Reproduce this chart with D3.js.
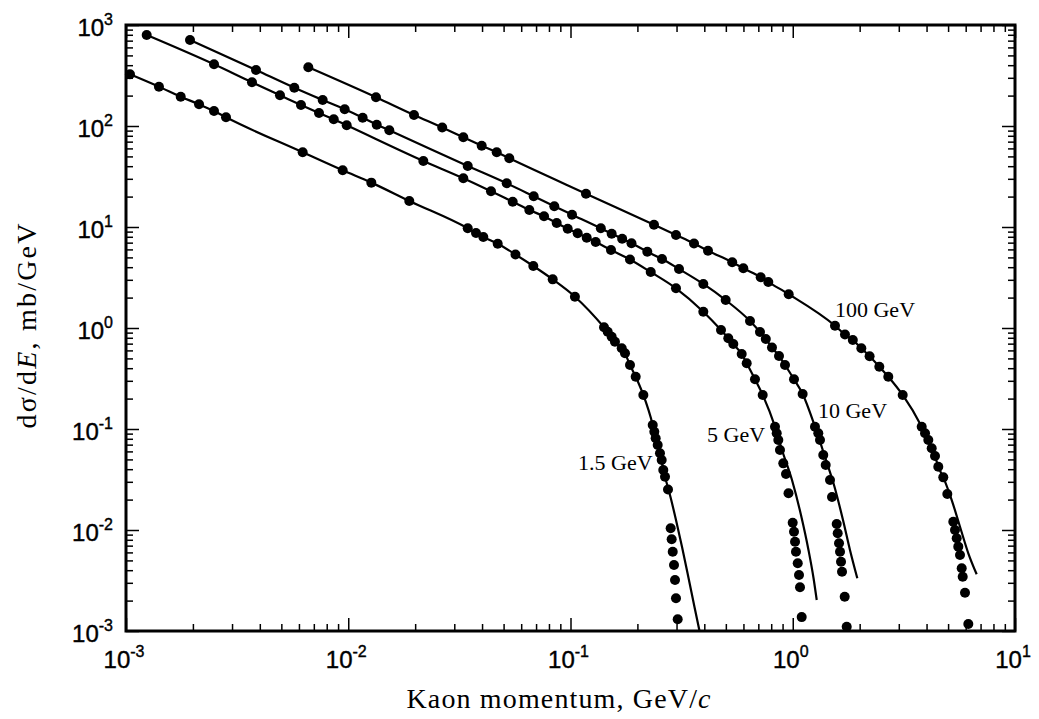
<!doctype html>
<html>
<head>
<meta charset="utf-8">
<title>Kaon production spectra</title>
<script src="https://d3js.org/d3.v7.min.js"></script>
<style>
    body { margin: 0; background: #fff; }
    .tick line { stroke: #000; stroke-width: 1.5px; }
    .tick-label { font-family: "Liberation Sans", Arial, sans-serif; font-size: 24px; fill: #000; stroke: #000; stroke-width: 0.4px; }
    .title { font-family: "Liberation Serif", "Times New Roman", serif; font-size: 28px; fill: #000; }
    .series-label { font-family: "Liberation Serif", "Times New Roman", serif; font-size: 22px; fill: #000; }
    .curve { fill: none; stroke: #000; stroke-width: 2.2px; }
    .dot { fill: #000; }
</style>
</head>
<body>
<svg id="chart" width="1039" height="719"></svg>
<script>

// beam energies, one series each
var energies = ["1.5 GeV", "5 GeV", "10 GeV", "100 GeV"];

// measured points: [kaon momentum GeV/c, dsigma/dE mb/GeV]
var pts15 = [
    [0.001042, 325], [0.001407, 245], [0.001763, 195], [0.002131, 164], [0.002489, 140.8], [0.002818, 122],
    [0.006237, 54.9], [0.00944, 36.4], [0.0127, 27.5], [0.01882, 18.1],
    [0.03448, 9.71], [0.03757, 8.72], [0.04052, 7.96], [0.04704, 6.83], [0.05655, 5.34], [0.06802, 4.11],
    [0.08316, 3.03], [0.1047, 2.04],
    [0.1415, 1.016], [0.147, 0.919], [0.1532, 0.82], [0.1585, 0.732], [0.17, 0.63], [0.1759, 0.562],
    [0.1852, 0.43], [0.1965, 0.3295], [0.2127, 0.2171],
    [0.2344, 0.1095], [0.2383, 0.094], [0.2417, 0.0809], [0.2468, 0.0694], [0.2527, 0.0575], [0.2572, 0.0493],
    [0.2615, 0.0393], [0.2662, 0.0337], [0.2746, 0.0252],
    [0.2823, 0.01039], [0.2852, 0.00809], [0.2884, 0.0061], [0.2922, 0.0045], [0.2953, 0.0032],
    [0.2983, 0.00211], [0.3036, 0.001306]
];
var pts5 = [
    [0.001239, 796], [0.002489, 408], [0.003688, 270.8], [0.00493, 201.4], [0.006128, 161.4], [0.007385, 134.5],
    [0.008603, 116.5], [0.00984, 101.6],
    [0.02177, 45.03], [0.03294, 30.35], [0.04388, 22.57], [0.05494, 17.8], [0.06526, 14.73], [0.07601, 12.76],
    [0.08668, 10.95], [0.09714, 9.62], [0.1077, 8.66], [0.1183, 7.84], [0.1298, 7.1], [0.1521, 5.92],
    [0.1852, 4.77], [0.2296, 3.58], [0.2983, 2.47], [0.3959, 1.45],
    [0.4755, 0.955], [0.5129, 0.791], [0.5401, 0.694], [0.5893, 0.553], [0.6206, 0.447], [0.6762, 0.3105],
    [0.7325, 0.2171],
    [0.832, 0.1054], [0.8469, 0.0907], [0.861, 0.0778], [0.876, 0.062], [0.9068, 0.0457], [0.9324, 0.0358],
    [0.957, 0.02309],
    [0.9995, 0.01181], [1.013, 0.00962], [1.024, 0.00766], [1.034, 0.0061], [1.053, 0.00468], [1.067, 0.00358],
    [1.078, 0.00271], [1.097, 0.001373]
];
var pts10 = [
    [0.001941, 710], [0.003845, 358.5], [0.005719, 239.4], [0.007674, 180.9], [0.009638, 146.3], [0.01161, 120.9],
    [0.01343, 103], [0.0153, 90.7],
    [0.03448, 40.18], [0.05164, 27.09], [0.0683, 20.14], [0.08455, 16.03], [0.1016, 13.24], [0.1369, 9.71],
    [0.1532, 8.59], [0.1708, 7.64], [0.1881, 6.9], [0.2216, 5.69], [0.2581, 4.82], [0.3078, 3.84],
    [0.3959, 2.73], [0.4992, 1.89], [0.6422, 1.173],
    [0.7121, 0.913], [0.7563, 0.778], [0.8065, 0.641], [0.8672, 0.528], [0.9229, 0.43], [1.013, 0.3105],
    [1.108, 0.2221],
    [1.259, 0.1054], [1.303, 0.0907], [1.326, 0.0778], [1.372, 0.0553], [1.407, 0.044], [1.471, 0.03126],
    [1.502, 0.02122],
    [1.577, 0.01147], [1.593, 0.00928], [1.615, 0.00738], [1.632, 0.0061], [1.649, 0.00485], [1.666, 0.00386],
    [1.713, 0.002186], [1.749, 0.001103]
];
var pts100 = [
    [0.006612, 381.3], [0.01333, 192.4], [0.01976, 128.5], [0.02647, 96.6], [0.03294, 77.3], [0.03985, 63.8],
    [0.04656, 54.9], [0.05303, 47.9],
    [0.1174, 21.36], [0.2375, 10.51], [0.2983, 8.33], [0.3595, 6.87], [0.4156, 5.81], [0.5341, 4.48],
    [0.5992, 3.9], [0.7174, 3.18], [0.7762, 2.85], [0.9589, 2.16],
    [1.549, 1.054], [1.718, 0.862], [1.863, 0.761], [2.035, 0.63], [2.217, 0.525], [2.452, 0.414],
    [2.691, 0.3295], [3.124, 0.2171],
    [3.804, 0.1054], [3.937, 0.0907], [4.073, 0.0778], [4.219, 0.0644], [4.365, 0.054], [4.517, 0.0423],
    [4.757, 0.0332],
    [4.96, 0.02272], [5.277, 0.01208], [5.37, 0.01], [5.466, 0.00827], [5.557, 0.00684], [5.656, 0.00566],
    [5.757, 0.00418], [5.817, 0.00345], [5.957, 0.002394], [6.165, 0.001173]
];

// calculated curves follow the points down to fitCut, then run on alone
var fitCut = [0.267, 0.833, 1.26, 4.76];
var tail15 = [[0.2818, 0.02122], [0.2983, 0.01256], [0.3176, 0.00679], [0.3397, 0.00335], [0.3613, 0.001728], [0.3806, 0.001]];
var tail5 = [[0.8946, 0.062], [0.9922, 0.03126], [1.089, 0.01408], [1.177, 0.00634], [1.24, 0.00335], [1.282, 0.002027]];
var tail10 = [[1.411, 0.0493], [1.533, 0.02789], [1.683, 0.01256], [1.809, 0.00634], [1.952, 0.003324]];
var tail100 = [[5.191, 0.0198], [5.656, 0.01078], [6.165, 0.00588], [6.724, 0.003642]];

// where each energy label sits (data coords of text start)
var labelAt = [[0.1081, 0.0393], [0.4114, 0.0743], [1.299, 0.1285], [1.549, 1.285]];

// axis decades (exponents of 10)
var xDecades = [-3, -2, -1, 0, 1];
var yDecades = [-3, -2, -1, 0, 1, 2, 3];

var points = [pts15, pts5, pts10, pts100];
var tails = [tail15, tail5, tail10, tail100];

var svg = d3.select("#chart"),
    margin = {left: 126, right: 24, top: 25, bottom: 88},
    width = 1039 - margin.left - margin.right,
    height = 719 - margin.top - margin.bottom;

var g = svg.append("g")
    .attr("transform", "translate(" + margin.left + "," + margin.top + ")");

var x = d3.scaleLog().domain([1e-3, 10]).range([0, width]);
var y = d3.scaleLog().domain([1e-3, 1e3]).range([height, 0]);

function majors(decs) {
    return decs.map(function(d) { return Math.pow(10, d); });
}
function minors(decs) {
    var out = [];
    for (var i = 0; i < decs.length - 1; i++) {
        for (var m = 2; m <= 9; m++) out.push(m * Math.pow(10, decs[i]));
    }
    return out;
}

// ticks on all four sides, pointing inward
function drawAxis(axisFn, scale, decs, transform) {
    [[majors(decs), 13], [minors(decs), 7]].forEach(function(set) {
        var ax = g.append("g")
            .attr("transform", transform)
            .call(axisFn(scale).tickValues(set[0]).tickSize(-set[1]).tickFormat(""));
        ax.select(".domain").remove();
    });
}
drawAxis(d3.axisBottom, x, xDecades, "translate(0," + height + ")");
drawAxis(d3.axisTop, x, xDecades, "translate(0,0)");
drawAxis(d3.axisLeft, y, yDecades, "translate(0,0)");
drawAxis(d3.axisRight, y, yDecades, "translate(" + width + ",0)");

// tick labels as 10 with superscript exponent
yDecades.forEach(function(d) {
    var t = g.append("text").attr("class", "tick-label")
        .attr("x", -13).attr("y", y(Math.pow(10, d)) + 11)
        .attr("text-anchor", "end");
    t.append("tspan").text("10");
    t.append("tspan").attr("dy", -11).style("font-size", "16px").text(d);
});
xDecades.forEach(function(d) {
    var t = g.append("text").attr("class", "tick-label")
        .attr("x", x(Math.pow(10, d)) - 2).attr("y", height + 37)
        .attr("text-anchor", "middle");
    t.append("tspan").text("10");
    t.append("tspan").attr("dy", -11).style("font-size", "16px").text(d);
});

// curves
g.append("clipPath").attr("id", "plot-clip")
    .append("rect").attr("width", width).attr("height", height);

var line = d3.line()
    .x(function(d) { return x(d[0]); })
    .y(function(d) { return y(d[1]); })
    .curve(d3.curveMonotoneX);

points.forEach(function(pts, i) {
    var curve = pts.filter(function(d) { return d[0] <= fitCut[i]; }).concat(tails[i]);
    g.append("path").attr("class", "curve")
        .attr("clip-path", "url(#plot-clip)")
        .attr("d", line(curve));
});

// measured points
points.forEach(function(pts) {
    g.selectAll(null).data(pts).enter().append("circle")
        .attr("class", "dot")
        .attr("cx", function(d) { return x(d[0]); })
        .attr("cy", function(d) { return y(d[1]); })
        .attr("r", 5);
});

// energy labels
energies.forEach(function(e, i) {
    g.append("text").attr("class", "series-label")
        .attr("x", x(labelAt[i][0])).attr("y", y(labelAt[i][1]))
        .text(e);
});

// frame
g.append("rect")
    .attr("width", width).attr("height", height)
    .attr("fill", "none").attr("stroke", "#000").attr("stroke-width", 3);

// axis titles
var xt = svg.append("text").attr("class", "title")
    .attr("x", margin.left + width / 2 - 12).attr("y", 708)
    .attr("text-anchor", "middle")
    .attr("textLength", 304).attr("lengthAdjust", "spacing");
xt.append("tspan").text("Kaon momentum, GeV/");
xt.append("tspan").style("font-style", "italic").text("c");

var yt = svg.append("text").attr("class", "title")
    .attr("transform", "translate(36,326) rotate(-90)")
    .attr("text-anchor", "middle")
    .attr("textLength", 205).attr("lengthAdjust", "spacing");
yt.append("tspan").text("d\u03c3/d");
yt.append("tspan").style("font-style", "italic").text("E");
yt.append("tspan").text(", mb/GeV");

</script>
</body>
</html>
